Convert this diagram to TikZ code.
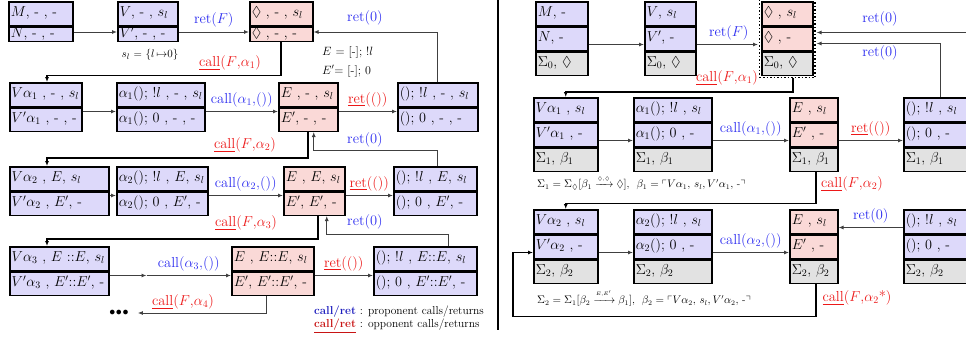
\documentclass[tikz,border=0pt]{standalone}
\usepackage{amsmath,amssymb}
\usetikzlibrary{arrows.meta,calc,positioning,fit}
\definecolor{propfill}{RGB}{221,217,250}
\definecolor{oppfill}{RGB}{250,217,215}
\definecolor{stackfill}{RGB}{226,226,226}
\definecolor{propcol}{RGB}{45,45,240}
\definecolor{oppcol}{RGB}{236,24,24}
\definecolor{legblue}{RGB}{30,30,190}
\definecolor{legred}{RGB}{200,20,20}
\newcommand{\pcall}[1]{\textcolor{propcol}{call(#1)}}
\newcommand{\pret}[1]{\textcolor{propcol}{ret(#1)}}
\newcommand{\ocall}[1]{\textcolor{oppcol}{\underline{call}(#1)}}
\newcommand{\oret}[1]{\textcolor{oppcol}{\underline{ret}(#1)}}
\tikzset{cell/.style={draw,line width=1.5pt,anchor=north west,inner xsep=2pt,inner ysep=0pt,text width=#1,align=left,minimum height=23.5pt,text height=10pt,text depth=3.5pt,font=\fontsize{14.2}{16}\selectfont},
pc/.style={cell=#1,fill=propfill},oc/.style={cell=#1,fill=oppfill},sc/.style={cell=#1,fill=stackfill},
flat/.style={minimum height=14.5pt,text height=9.5pt,text depth=3pt},
ar/.style={-{Latex[length=5pt,width=4pt]},draw=black!75,line width=0.9pt},
bar/.style={-{Latex[length=5pt,width=4pt]},line width=1.8pt},
lab/.style={font=\fontsize{14.5}{16}\selectfont,inner sep=1pt},
note/.style={font=\fontsize{12}{14}\selectfont,inner sep=0pt,anchor=west}}
\begin{document}
\begin{tikzpicture}[x=1pt,y=-1pt]
\useasboundingbox(0,0)rectangle(966,340);\clip(0,0)rectangle(966,340);
\node[pc=60pt](la1u)at(8,1){$M$,~-~,~-};\node[pc=60pt,flat,below=0pt of la1u](la1l){$N$,~-~,~-};
\node[pc=56pt](la2u)at(117,1){$V$,~-~,~$s_l$};\node[pc=56pt,flat,below=0pt of la2u](la2l){$V'$,~-~,~-};
\node[oc=59pt](la3u)at(249,1){$\Diamond$~,~-~,~$s_l$};\node[oc=59pt,flat,below=0pt of la3u](la3l){$\Diamond$~,~-~,~-};
\node[pc=68pt](lb1u)at(9,82){$V\alpha_1$~,~-~,~$s_l$};\node[pc=68pt,below=0pt of lb1u](lb1l){$V'\alpha_1$~,~-~,~-};
\node[pc=84pt](lb2u)at(116,82){$\alpha_1$();~!$l$~,~-~,~$s_l$};\node[pc=84pt,below=0pt of lb2u](lb2l){$\alpha_1$();~0~,~-~,~-};
\node[oc=55pt](lb3u)at(278,82){$E$~,~-~,~$s_l$};\node[oc=55pt,below=0pt of lb3u](lb3l){$E'$,~-~,~-};
\node[pc=76pt](lb4u)at(397,82){();~!$l$~,~-~,~$s_l$};\node[pc=76pt,below=0pt of lb4u](lb4l){();~0~,~-~,~-};
\node[pc=95pt](lc1u)at(9,166){$V\alpha_2$~,~$E$,~$s_l$};\node[pc=95pt,below=0pt of lc1u](lc1l){$V'\alpha_2$~,~$E'$,~-};
\node[pc=87pt](lc2u)at(116,166){$\alpha_2$();~!$l$~,~$E$,~$s_l$};\node[pc=87pt,below=0pt of lc2u](lc2l){$\alpha_2$();~0~,~$E'$,~-};
\node[oc=57pt](lc3u)at(283,166){$E$~,~$E$,~$s_l$};\node[oc=57pt,below=0pt of lc3u](lc3l){$E'$,~$E'$,~-};
\node[pc=79pt](lc4u)at(393,166){();~!$l$~,~$E$,~$s_l$};\node[pc=79pt,below=0pt of lc4u](lc4l){();~0~,~$E'$,~-};
\node[pc=95pt](ld1u)at(9,246){$V\alpha_3$~,~$E$~::$E$,~$s_l$};\node[pc=95pt,below=0pt of ld1u](ld1l){$V'\alpha_3$~,~$E'$::$E'$,~-};
\node[oc=78pt](ld3u)at(231,246){$E$~,~$E$::$E$,~$s_l$};\node[oc=78pt,below=0pt of ld3u](ld3l){$E'$,~$E'$::$E'$,~-};
\node[pc=99pt](ld4u)at(373,246){();~!$l$~,~$E$::$E$,~$s_l$};\node[pc=99pt,below=0pt of ld4u](ld4l){();~0~,~$E'$::$E'$,~-};
\draw[ar]([yshift=2pt]la1l.east)--([yshift=2pt]la2l.west);
\draw[ar]([yshift=2pt]la2l.east)--node[lab,above=3pt]{\pret{$F$}}([yshift=2pt]la3l.west);
\draw[ar](lb4u.north)|-([yshift=2pt]la3l.east);
\draw[bar](la3l.south)--++(0,33.5)-|([xshift=38pt]lb1u.north west);
\draw[ar]([yshift=8pt]lb1l.east)--([yshift=8pt]lb2l.west);
\draw[ar]([yshift=8pt]lb2l.east)--node[lab,above=3pt]{\pcall{$\alpha_1$,()}}([yshift=8pt]lb3l.west);
\draw[ar]([yshift=8pt]lb3l.east)--node[lab,above=3pt]{\oret{()}}([yshift=8pt]lb4l.west);
\draw[ar]([xshift=2.5pt]lc4u.north)--++(0,-16)-|([xshift=5.5pt]lb3l.south);
\draw[bar](lb3l.south)--++(0,26)-|([xshift=38pt]lc1u.north west);
\draw[ar]([yshift=8pt]lc1l.east)--([yshift=8pt]lc2l.west);
\draw[ar]([yshift=8pt]lc2l.east)--node[lab,above=3pt]{\pcall{$\alpha_2$,()}}([yshift=8pt]lc3l.west);
\draw[ar]([yshift=8pt]lc3l.east)--node[lab,above=3pt]{\oret{()}}([yshift=8pt]lc4l.west);
\draw[ar]([xshift=23.5pt]ld4u.north)--++(0,-12)-|([xshift=12.5pt]lc3l.south);
\draw[bar]([xshift=3.5pt]lc3l.south)--++(0,23)-|([xshift=38pt]ld1u.north west);
\coordinate(lgap)at($(ld1l.east)+(37,-8)$);
\draw[ar]([yshift=8pt]ld1l.east)--(lgap);
\draw[ar](lgap)--node[lab,above=3pt]{\pcall{$\alpha_3$,()}}([yshift=8pt]ld3l.west);
\draw[ar]([yshift=8pt]ld3l.east)--node[lab,above=3pt]{\oret{()}}([yshift=8pt]ld4l.west);
\node[inner xsep=9pt,font=\fontsize{12}{14}\selectfont](ldots)at(119,313){$\bullet\!\bullet\!\bullet$};
\draw[ar]([xshift=-6pt]ld3l.south)|-(ldots.east);
\node[lab]at(365,18){\pret{0}};\node[lab]at(230,63){\ocall{$F$,$\alpha_1$}};
\node[lab]at(245,145){\ocall{$F$,$\alpha_2$}};\node[lab]at(365,140){\pret{0}};
\node[lab]at(246,223){\ocall{$F$,$\alpha_3$}};\node[lab]at(365,222){\pret{0}};
\node[lab]at(183,302){\ocall{$F$,$\alpha_4$}};
\node[note,anchor=center,font=\fontsize{11}{13}\selectfont]at(150,55){$s_l$ = \{$l\,{\mapsto}0$\}};
\node[note]at(322,52){$E$ = [-]; !$l$};\node[note]at(322,71){$E'$= [-]; 0};
\node[note,font=\fontsize{11.5}{13}\selectfont]at(314,312){\textcolor{legblue}{\textbf{call/ret}} : proponent calls/returns};
\node[note,font=\fontsize{11.5}{13}\selectfont]at(314,326){\textcolor{legred}{\textbf{\underline{call/ret}}} : opponent calls/returns};
\draw[line width=1.8pt](498,0)--(498,330);
\node[pc=48pt](ra1u)at(535,1){$M$,~-};\node[pc=48pt,below=0pt of ra1u](ra1m){$N$,~-};\node[sc=48pt,below=0pt of ra1m](ra1s){$\Sigma_0$,~$\Diamond$};
\node[pc=47pt](ra2u)at(644,1){$V$,~$s_l$};\node[pc=47pt,below=0pt of ra2u](ra2m){$V'$,~-};\node[sc=47pt,below=0pt of ra2m](ra2s){$\Sigma_0$,~$\Diamond$};
\node[oc=47pt](ra3u)at(761,1){$\Diamond$~,~$s_l$};\node[oc=47pt,below=0pt of ra3u](ra3m){$\Diamond$~,~-};\node[sc=47pt,below=0pt of ra3m](ra3s){$\Sigma_0$,~$\Diamond$};
\node[draw,dotted,line width=1.5pt,inner sep=1.5pt,fit=(ra3u)(ra3s)](ra3f){};
\node[pc=60pt](rb1u)at(533,97){$V\alpha_1$~,~$s_l$};\node[pc=60pt,below=0pt of rb1u](rb1m){$V'\alpha_1$~,~-};\node[sc=60pt,below=0pt of rb1m](rb1s){$\Sigma_1$,~$\beta_1$};
\node[pc=74pt](rb2u)at(633,97){$\alpha_1$();~!$l$~,~$s_l$};\node[pc=74pt,below=0pt of rb2u](rb2m){$\alpha_1$();~0~,~-};\node[sc=74pt,below=0pt of rb2m](rb2s){$\Sigma_1$,~$\beta_1$};
\node[oc=44pt](rb3u)at(789,97){$E$~,~$s_l$};\node[oc=44pt,below=0pt of rb3u](rb3m){$E'$~,~-};\node[sc=44pt,below=0pt of rb3m](rb3s){$\Sigma_1$,~$\beta_1$};
\node[pc=74pt](rb4u)at(903,97){();~!$l$~,~$s_l$};\node[pc=74pt,below=0pt of rb4u](rb4m){();~0~,~-};\node[sc=74pt,below=0pt of rb4m](rb4s){$\Sigma_1$,~$\beta_1$};
\node[pc=60pt](rc1u)at(533,209){$V\alpha_2$~,~$s_l$};\node[pc=60pt,below=0pt of rc1u](rc1m){$V'\alpha_2$~,~-};\node[sc=60pt,below=0pt of rc1m](rc1s){$\Sigma_2$,~$\beta_2$};
\node[pc=74pt](rc2u)at(633,209){$\alpha_2$();~!$l$~,~$s_l$};\node[pc=74pt,below=0pt of rc2u](rc2m){$\alpha_2$();~0~,~-};\node[sc=74pt,below=0pt of rc2m](rc2s){$\Sigma_2$,~$\beta_2$};
\node[oc=44pt](rc3u)at(789,209){$E$~,~$s_l$};\node[oc=44pt,below=0pt of rc3u](rc3m){$E'$~,~-};\node[sc=44pt,below=0pt of rc3m](rc3s){$\Sigma_2$,~$\beta_2$};
\node[pc=74pt](rc4u)at(903,209){();~!$l$~,~$s_l$};\node[pc=74pt,below=0pt of rc4u](rc4m){();~0~,~-};\node[sc=74pt,below=0pt of rc4m](rc4s){$\Sigma_2$,~$\beta_2$};
\draw[ar]([yshift=-6pt]ra1m.east)--([yshift=-6pt]ra2m.west);
\draw[ar,shorten >=3pt]([yshift=-6pt]ra2m.east)--node[lab,above=3pt]{\pret{$F$}}([yshift=-6pt]ra3m.west);
\coordinate(roff)at($(ra3m.east)+(170,-6)$);
\draw[ar,shorten >=3pt](roff)--([yshift=6pt]ra3m.east);
\draw[ar,shorten >=3pt]([xshift=-2pt]rb4u.north)|-([yshift=-5pt]ra3m.east);
\draw[bar]([xshift=5.5pt]ra3f.south)--++(0,14)-|(rb1u.north);
\draw[ar]([yshift=-6pt]rb1m.east)--([yshift=-6pt]rb2m.west);
\draw[ar]([yshift=-6pt]rb2m.east)--node[lab,above=3pt]{\pcall{$\alpha_1$,()}}([yshift=-6pt]rb3m.west);
\draw[ar]([yshift=-6pt]rb3m.east)--node[lab,above=3pt]{\oret{()}}([yshift=-6pt]rb4m.west);
\draw[bar]([xshift=2pt]rb3s.south)--++(0,31.5)-|(rc1u.north);
\draw[ar]([yshift=-6pt]rc1m.east)--([yshift=-6pt]rc2m.west);
\draw[ar]([yshift=-6pt]rc2m.east)--node[lab,above=3pt]{\pcall{$\alpha_2$,()}}([yshift=-6pt]rc3m.west);
\draw[ar]([yshift=-6pt]rc4u.west)--node[lab,above=3pt]{\pret{0}}([yshift=-6pt]rc3u.east);
\draw[bar]([xshift=2pt]rc3s.south)--++(0,32.5)-|($(rc1m.west)+(-20,6)$)--([yshift=-6pt]rc1m.west);
\node[lab]at(727,78){\ocall{$F$,$\alpha_1$}};\node[lab]at(880,19){\pret{0}};\node[lab]at(880,53){\pret{0}};
\node[lab]at(852,184){\ocall{$F$,$\alpha_2$}};\node[lab]at(857,298){\ocall{$F$,$\alpha_2$*}};
\node[note,font=\fontsize{10.5}{12}\selectfont]at(537,183){$\Sigma_1=\Sigma_\Diamond[\beta_1\xrightarrow{\raisebox{1.5pt}{$\scriptscriptstyle\Diamond,\Diamond$}}\Diamond]$,~ $\beta_1=\ulcorner V\alpha_1,\, s_l, V'\alpha_1,$ -$\urcorner$};
\node[note,font=\fontsize{10.5}{12}\selectfont]at(537,298){$\Sigma_2=\Sigma_1[\beta_2\xrightarrow{\raisebox{1.5pt}{$\scriptscriptstyle E,E'$}}\beta_1]$,~ $\beta_2=\ulcorner V\alpha_2,\, s_l, V'\alpha_2,$ -$\urcorner$};
\end{tikzpicture}
\end{document}
